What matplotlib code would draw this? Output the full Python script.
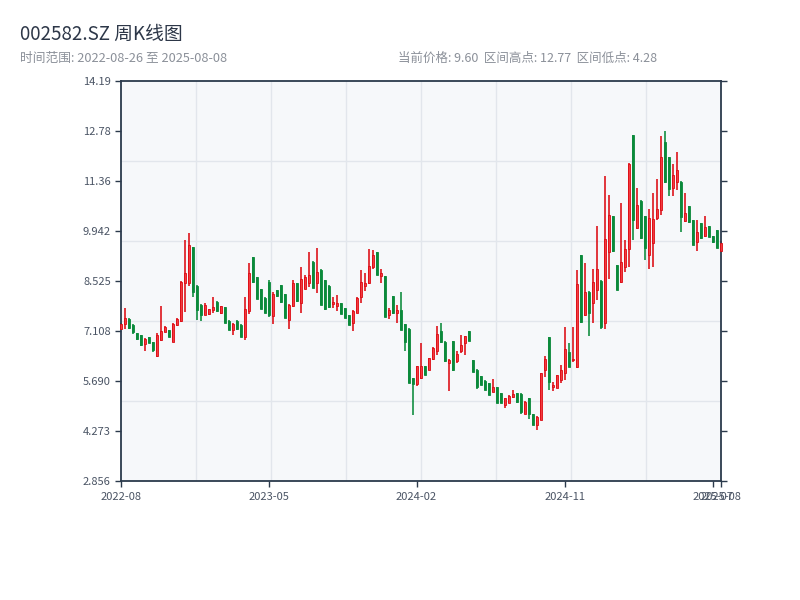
import matplotlib
matplotlib.use("Agg")
import matplotlib.pyplot as plt
import numpy as np
import pandas as pd

plt.rcParams['font.family'] = ['Noto Sans CJK SC', 'DejaVu Sans']

# ---- data ----
opens = [7.15, 7.29, 7.45, 7.28, 7.03, 6.98, 6.72, 6.92, 6.78, 6.39,
         6.84, 7.08, 7.12, 6.80, 7.26, 7.38, 8.46, 8.47, 9.47, 8.37,
         7.85, 7.55, 7.57, 7.70, 7.93, 7.60, 7.78, 7.39, 7.13, 7.39,
         7.28, 6.94, 7.67, 9.20, 8.62, 8.28, 8.04, 8.50, 7.52, 8.26,
         8.40, 8.15, 7.41, 7.80, 8.45, 7.90, 8.30, 8.45, 9.06, 8.47,
         8.83, 8.54, 8.37, 7.86, 7.80, 7.88, 7.74, 7.55, 7.32, 7.62,
         8.07, 8.38, 8.47, 8.92, 9.34, 8.66, 8.66, 7.55, 8.09, 7.60,
         7.70, 7.30, 7.17, 5.76, 5.60, 5.76, 6.10, 5.99, 6.30, 6.54,
         7.10, 6.80, 6.20, 6.82, 6.26, 6.54, 6.77, 7.10, 6.28, 6.00,
         5.82, 5.69, 5.62, 5.38, 5.50, 5.33, 4.99, 5.07, 5.22, 5.33,
         5.32, 4.76, 5.19, 4.75, 4.44, 4.58, 5.99, 6.92, 5.52, 5.49,
         5.71, 5.90, 6.50, 6.28, 6.09, 9.25, 7.55, 8.21, 7.90, 8.26,
         8.52, 7.33, 9.35, 10.36, 8.96, 8.50, 8.92, 9.41, 12.65, 10.01,
         10.79, 10.36, 9.25, 9.60, 10.29, 10.53, 12.45, 12.03, 11.14, 11.33,
         11.33, 10.22, 10.64, 10.24, 9.63, 10.15, 9.79, 10.07, 9.79, 9.96,
         9.37]
highs = [7.33, 7.74, 7.47, 7.30, 7.05, 7.00, 6.89, 6.94, 6.80, 7.03,
         7.81, 7.24, 7.13, 7.33, 7.46, 8.52, 9.68, 9.89, 9.48, 8.40,
         7.86, 7.88, 7.72, 8.07, 7.94, 7.81, 7.79, 7.40, 7.32, 7.40,
         7.29, 8.07, 9.03, 9.21, 8.64, 8.29, 8.05, 8.54, 8.21, 8.27,
         8.41, 8.16, 7.86, 8.54, 8.46, 8.90, 8.68, 9.35, 9.07, 9.45,
         8.85, 8.55, 8.40, 8.07, 8.12, 7.90, 7.75, 7.56, 7.69, 8.05,
         8.83, 8.73, 9.41, 9.39, 9.35, 8.85, 8.67, 7.74, 8.10, 7.83,
         8.21, 7.31, 7.18, 5.77, 6.11, 6.76, 6.11, 6.33, 6.64, 7.24,
         7.32, 6.81, 6.30, 6.83, 6.54, 6.98, 6.97, 7.11, 6.29, 6.01,
         5.83, 5.70, 5.63, 5.73, 5.51, 5.34, 5.20, 5.28, 5.43, 5.34,
         5.33, 5.11, 5.20, 4.76, 4.69, 5.92, 6.39, 6.93, 5.66, 5.85,
         6.13, 7.20, 6.75, 7.20, 8.83, 9.26, 9.02, 8.22, 8.85, 10.07,
         8.55, 11.49, 10.95, 10.37, 8.97, 10.73, 9.67, 11.85, 12.66, 11.14,
         10.80, 10.37, 10.57, 11.02, 11.42, 12.62, 12.77, 12.04, 11.83, 12.18,
         11.34, 11.02, 10.65, 10.25, 10.24, 10.16, 10.36, 10.08, 9.80, 9.97,
         9.65]
lows = [7.12, 7.15, 7.15, 7.02, 6.84, 6.66, 6.52, 6.75, 6.51, 6.35,
        6.82, 7.07, 6.92, 6.78, 7.25, 7.36, 7.65, 8.37, 8.07, 7.41,
        7.39, 7.54, 7.55, 7.60, 7.65, 7.59, 7.33, 7.12, 7.00, 7.14,
        6.92, 6.84, 7.58, 8.47, 8.00, 7.71, 7.60, 7.49, 7.30, 8.07,
        7.90, 7.46, 7.15, 7.79, 7.93, 7.62, 8.29, 8.34, 8.31, 8.17,
        7.83, 7.70, 7.74, 7.74, 7.67, 7.58, 7.46, 7.27, 7.11, 7.61,
        7.90, 8.24, 8.43, 8.87, 8.68, 8.47, 7.50, 7.43, 7.58, 7.33,
        7.12, 6.54, 5.62, 4.72, 5.54, 5.75, 5.85, 5.98, 6.29, 6.41,
        6.75, 6.23, 5.41, 5.97, 6.18, 6.48, 6.42, 6.82, 5.94, 5.45,
        5.57, 5.43, 5.28, 5.37, 5.05, 5.05, 4.93, 5.06, 5.21, 5.07,
        4.75, 4.75, 4.60, 4.43, 4.28, 4.57, 5.79, 5.43, 5.41, 5.47,
        5.62, 5.71, 6.08, 6.23, 6.04, 7.33, 7.52, 6.96, 7.32, 7.98,
        7.15, 7.17, 8.56, 9.35, 8.25, 8.45, 8.77, 8.92, 9.68, 9.98,
        9.72, 9.11, 8.87, 8.92, 10.24, 10.38, 11.30, 10.92, 10.92, 11.09,
        9.91, 10.20, 10.17, 9.53, 9.37, 9.72, 9.77, 9.75, 9.60, 9.44,
        9.37]
closes = [7.30, 7.48, 7.18, 7.06, 6.86, 6.70, 6.86, 6.77, 6.55, 6.98,
          7.10, 7.22, 6.93, 7.30, 7.43, 8.49, 8.74, 9.53, 8.21, 7.69,
          7.55, 7.83, 7.71, 7.77, 7.66, 7.80, 7.34, 7.14, 7.29, 7.16,
          6.93, 7.72, 8.75, 8.48, 8.02, 7.72, 7.61, 7.55, 8.15, 8.08,
          7.91, 7.47, 7.83, 8.46, 7.94, 8.56, 8.63, 8.68, 8.33, 8.78,
          7.84, 7.71, 7.77, 7.93, 7.90, 7.59, 7.47, 7.28, 7.67, 8.04,
          8.49, 8.45, 8.94, 9.25, 8.69, 8.75, 7.51, 7.69, 7.60, 7.70,
          7.13, 6.80, 5.63, 5.60, 6.10, 6.10, 5.86, 6.32, 6.62, 7.01,
          6.80, 6.24, 6.27, 5.98, 6.45, 6.70, 6.96, 6.83, 5.95, 5.50,
          5.58, 5.44, 5.29, 5.52, 5.06, 5.06, 5.19, 5.27, 5.30, 5.08,
          4.80, 5.09, 4.76, 4.44, 4.67, 5.90, 6.30, 5.65, 5.58, 5.84,
          5.99, 6.58, 6.09, 6.30, 8.43, 7.35, 8.21, 7.60, 8.49, 8.87,
          7.20, 9.72, 10.38, 9.36, 8.26, 9.06, 9.41, 11.83, 10.24, 10.67,
          9.73, 9.44, 10.29, 10.26, 10.57, 12.02, 11.33, 11.12, 11.52, 11.66,
          10.34, 10.45, 10.18, 9.54, 9.91, 9.73, 10.05, 9.76, 9.61, 9.45,
          9.60]

start_date = '2022-08-26'
end_date = '2025-08-08'
holiday_weeks = ['2022-10-07', '2023-01-27', '2023-10-06', '2024-02-16']
tick_idx = [0, 37, 74, 111, 148, 150]
y_tick_labels = ["2.856", "4.273", "5.690", "7.108", "8.525",
                 "9.942", "11.36", "12.78", "14.19"]
title = "002582.SZ 周K线图"
sub_left = "时间范围: 2022-08-26 至 2025-08-08"
sub_right = "当前价格: 9.60  区间高点: 12.77  区间低点: 4.28"

dates = pd.date_range(start_date, end_date, freq='W-FRI')
dates = dates[~dates.isin(pd.to_datetime(holiday_weeks))]

# ---- styling ----
UP_EDGE = '#dc0a12'
UP_FILL = '#f23b3f'
DOWN = '#0a8a3a'
SPINE = '#2b3a4c'
TXT = '#4a5464'

fig = plt.figure(figsize=(8, 6), dpi=100)
fig.patch.set_facecolor('white')
ax = fig.add_axes([0.15075, 0.19883, 0.75, 0.66667])
ax.set_facecolor('#f6f8fa')

o = np.array(opens); h = np.array(highs); l = np.array(lows); c = np.array(closes)
x = np.arange(len(o))
up = c >= o

ax.vlines(x[up], l[up], h[up], color=UP_EDGE, linewidth=1.15, zorder=2, clip_on=False)
ax.vlines(x[~up], l[~up], h[~up], color=DOWN, linewidth=1.15, zorder=2, clip_on=False)
bw = 0.52
bh = np.maximum(np.abs(c - o), 0.03)
bb = np.minimum(o, c)
ax.bar(x[up], bh[up], bottom=bb[up], width=bw, color=UP_FILL,
       edgecolor=UP_EDGE, linewidth=0.6, zorder=3, clip_on=False)
ax.bar(x[~up], bh[~up], bottom=bb[~up], width=bw, color=DOWN,
       edgecolor=DOWN, linewidth=0.6, zorder=3, clip_on=False)

ymin, ymax = 2.856, 14.194
ax.set_xlim(0, len(o) - 1)
ax.set_ylim(ymin, ymax)

# grid split lines (independent of ticks)
for gx in np.linspace(0, len(o) - 1, 9)[1:-1]:
    ax.axvline(gx, color='#e2e6ec', linewidth=1.0, zorder=0.5)
for gy in np.linspace(ymin, ymax, 6)[1:-1]:
    ax.axhline(gy, color='#e2e6ec', linewidth=1.0, zorder=0.5)

ax.set_yticks(np.linspace(ymin, ymax, 9))
ax.set_yticklabels(y_tick_labels)
ax.set_xticks(tick_idx)
ax.set_xticklabels([dates[i].strftime('%Y-%m') for i in tick_idx])

for s in ax.spines.values():
    s.set_color(SPINE)
    s.set_linewidth(1.3)
ax.tick_params(axis='both', direction='out', length=4, width=1.0,
               color=SPINE, labelcolor=TXT, labelsize=8)
ax.tick_params(axis='y', right=True, pad=3)
ax.tick_params(axis='x', pad=4)

fig.text(0.025, 0.943, title, fontsize=13.5, color='#2d3748', va='center', ha='left')
fig.text(0.025, 0.903, sub_left, fontsize=9.2, color='#8b9099', va='center', ha='left')
fig.text(0.4975, 0.903, sub_right, fontsize=9, color='#8b9099', va='center', ha='left')

fig.savefig('out.png', dpi=100)
